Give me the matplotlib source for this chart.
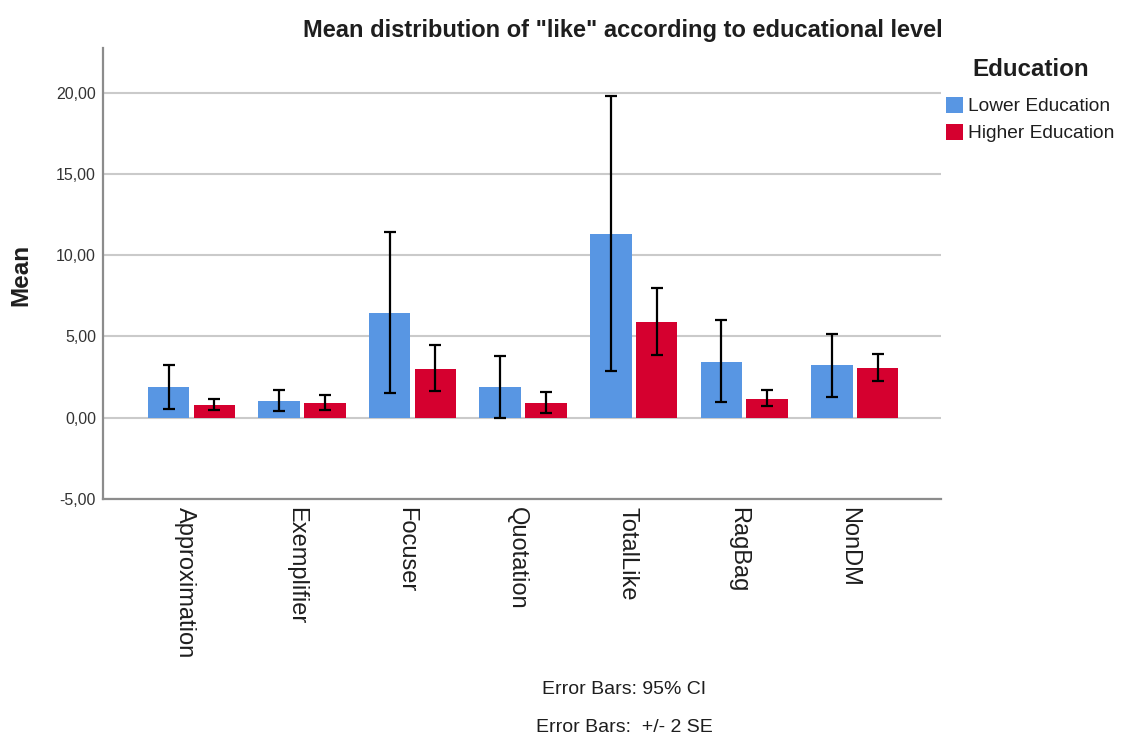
import matplotlib
matplotlib.use("Agg")
import matplotlib.pyplot as plt
import matplotlib.transforms as mtransforms
from matplotlib.patches import Patch
import numpy as np

plt.rcParams['font.family'] = ['Liberation Sans', 'DejaVu Sans']

categories = ["Approximation", "Exemplifier", "Focuser", "Quotation",
              "TotalLike", "RagBag", "NonDM"]
groups = ["Lower Education", "Higher Education"]

lower_mean = [1.87, 1.05, 6.43, 1.87, 11.31, 3.46, 3.22]
lower_ci_low = [0.53, 0.39, 1.50, -0.04, 2.85, 0.94, 1.29]
lower_ci_high = [3.26, 1.70, 11.41, 3.81, 19.79, 6.02, 5.16]

higher_mean = [0.78, 0.90, 3.01, 0.90, 5.88, 1.17, 3.05]
higher_ci_low = [0.45, 0.49, 1.64, 0.29, 3.83, 0.72, 2.23]
higher_ci_high = [1.15, 1.37, 4.45, 1.56, 7.97, 1.72, 3.93]

y_ticks = [-5, 0, 5, 10, 15, 20]
y_tick_labels = ["-5,00", "0,00", "5,00", "10,00", "15,00", "20,00"]

blue = "#5896E3"
red = "#D5002F"
grid_col = "#CACACA"
spine_col = "#8C8C8C"
text_col = "#1E1E1E"

W, H = 1121, 737
fig = plt.figure(figsize=(W / 100, H / 100), dpi=100)
ax = fig.add_axes([103 / W, 1 - 499 / H, (941 - 103) / W, (499 - 48) / H])

x = np.arange(len(categories))
width = 0.375
offset = 0.207

series = [
    (lower_mean, lower_ci_low, lower_ci_high, blue, groups[0], -offset),
    (higher_mean, higher_ci_low, higher_ci_high, red, groups[1], offset),
]
for mean, lo, hi, col, lab, off in series:
    mean = np.array(mean)
    err = np.vstack([mean - np.array(lo), np.array(hi) - mean])
    ax.bar(x + off, mean, width=width, color=col, label=lab, zorder=2)
    ax.errorbar(x + off, mean, yerr=err, fmt="none", ecolor="black",
                elinewidth=1.6, capsize=4, capthick=1.6, zorder=3)

ax.set_xlim(-0.8, 6.78)
ax.set_ylim(-5, 22.75)
ax.set_yticks(y_ticks)
ax.set_yticklabels(y_tick_labels, fontsize=11.5, color="#333333")
ax.set_xticks(x)
ax.set_xticklabels(categories, rotation=270, fontsize=17, color=text_col,
                   va="top", ha="center")
ax.tick_params(axis="both", length=0)
ax.tick_params(axis="y", pad=5)
ax.tick_params(axis="x", pad=6)
# nudge the vertical category names slightly left of the group centres
shift = mtransforms.ScaledTranslation(-6 / 100, 0, fig.dpi_scale_trans)
for lbl in ax.get_xticklabels():
    lbl.set_transform(lbl.get_transform() + shift)

ax.yaxis.grid(True, color=grid_col, linewidth=1.5, zorder=0)
ax.set_axisbelow(True)
for s in ["top", "right"]:
    ax.spines[s].set_visible(False)
for s in ["left", "bottom"]:
    ax.spines[s].set_color(spine_col)
    ax.spines[s].set_linewidth(1.6)

ax.set_ylabel("Mean", fontsize=17.5, fontweight="bold", color=text_col)
ax.yaxis.set_label_coords(-0.084, 0.497)

fig.text(623 / W, 1 - 30 / H, 'Mean distribution of "like" according to educational level',
         ha="center", va="center", fontsize=17, fontweight="bold", color=text_col)

# legend: bold heading plus one swatch per education group
fig.text(1031 / W, 1 - 70 / H, "Education", ha="center", va="center",
         fontsize=17.4, fontweight="bold", color=text_col)
handles = [Patch(facecolor=blue), Patch(facecolor=red)]
leg = fig.legend(handles=handles, labels=groups, loc="upper left",
                 bbox_to_anchor=(946 / W, 1 - 97 / H), frameon=False,
                 fontsize=13.8, handlelength=0.87, handleheight=0.87,
                 handletextpad=0.3, labelspacing=0.45, borderpad=0,
                 borderaxespad=0)
for t in leg.get_texts():
    t.set_color(text_col)

fig.text(624 / W, 1 - 689 / H, "Error Bars: 95% CI", ha="center", va="center",
         fontsize=14, color=text_col)
fig.text(624 / W, 1 - 728 / H, "Error Bars:  +/- 2 SE", ha="center", va="center",
         fontsize=14, color=text_col)

fig.savefig("out.png", dpi=100)
